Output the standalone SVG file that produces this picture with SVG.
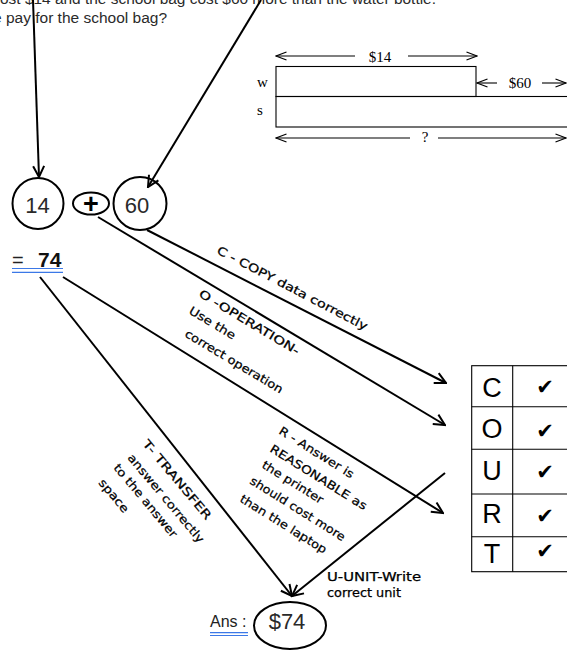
<svg xmlns="http://www.w3.org/2000/svg" width="567" height="650" viewBox="0 0 567 650">
<defs>
<style>
.q{font-family:"Liberation Sans",Arial,sans-serif;font-size:15.5px;fill:#2a2a2a}
.num{font-family:"Liberation Sans",Arial,sans-serif;font-size:22px;fill:#2a2a2a;text-anchor:middle}
.tm{font-family:"Liberation Serif","Times New Roman",serif;font-size:15px;fill:#000}
.lb{font-family:"Comic Sans MS","DejaVu Sans",sans-serif;font-size:11.5px;fill:#000;stroke:#000;stroke-width:0.25}
.ct{font-family:"Liberation Sans",Arial,sans-serif;font-size:27px;fill:#000;text-anchor:middle}
.ck{font-family:"DejaVu Sans",sans-serif;font-size:21px;fill:#000;text-anchor:middle}
.ln{stroke:#000;stroke-width:2;fill:none}
.tl{stroke:#000;stroke-width:1.1;fill:none}
.bl{stroke:#3b78e7;stroke-width:1.2}
</style>
<marker id="ah" viewBox="0 0 14 14" refX="12.5" refY="7" markerWidth="14" markerHeight="14" markerUnits="userSpaceOnUse" orient="auto">
<path d="M1.5,1.5 L12.5,7 L1.5,12.5" fill="none" stroke="#000" stroke-width="2"/>
</marker>
<marker id="ta" viewBox="0 0 12 10" refX="11" refY="5" markerWidth="12" markerHeight="10" markerUnits="userSpaceOnUse" orient="auto-start-reverse">
<path d="M0.5,1 L11,5 L0.5,9" fill="none" stroke="#000" stroke-width="1.1"/>
</marker>
</defs>
<rect width="567" height="650" fill="#fff"/>

<g id="question">
<text class="q" x="0" y="4" textLength="436" lengthAdjust="spacingAndGlyphs">ost $14 and the school bag cost $60 more than the water bottle.</text>
<text class="q" x="-7" y="22.5">e pay for the school bag?</text>
</g>

<g id="bar-model">
<rect x="276" y="66.5" width="200" height="30" class="tl" stroke-width="1.3"/>
<rect x="276" y="96.5" width="292" height="30.5" class="tl" stroke-width="1.3"/>
<text class="tm" x="257" y="87" font-size="13">w</text>
<text class="tm" x="257" y="115" font-size="13">s</text>
<line x1="276" y1="56" x2="355" y2="56" class="tl" marker-start="url(#ta)"/>
<line x1="408" y1="56" x2="477" y2="56" class="tl" marker-end="url(#ta)"/>
<text class="tm" x="380" y="61.5" text-anchor="middle">$14</text>
<line x1="477" y1="83" x2="497" y2="83" class="tl" marker-start="url(#ta)"/>
<line x1="542" y1="83" x2="566" y2="83" class="tl" marker-end="url(#ta)"/>
<text class="tm" x="520" y="88" text-anchor="middle">$60</text>
<line x1="276" y1="138" x2="410" y2="138" class="tl" marker-start="url(#ta)"/>
<line x1="438" y1="138" x2="566" y2="138" class="tl" marker-end="url(#ta)"/>
<text class="tm" x="425" y="142" text-anchor="middle">?</text>
</g>

<g id="node-14">
<circle cx="38" cy="203.5" r="25.5" class="ln"/>
<text class="num" x="37.5" y="213">14</text>
</g>
<g id="node-plus">
<ellipse cx="91" cy="203.5" rx="18" ry="11" class="ln"/>
<text x="91" y="212.5" font-family="Liberation Sans,Arial,sans-serif" font-weight="bold" font-size="27" text-anchor="middle" fill="#000">+</text>
</g>
<g id="node-60">
<circle cx="140" cy="203.5" r="26.5" class="ln"/>
<text class="num" x="137" y="213">60</text>
</g>

<g id="result-74">
<text x="12" y="267" font-family="Liberation Sans,Arial,sans-serif" font-size="20" fill="#222">=</text>
<text x="38" y="267" font-family="Liberation Sans,Arial,sans-serif" font-size="21" font-weight="bold" fill="#111">74</text>
<line x1="12" y1="268.5" x2="63" y2="268.5" class="bl"/>
<line x1="12" y1="272.3" x2="63" y2="272.3" class="bl"/>
</g>

<g id="answer">
<text x="210" y="627" font-family="Liberation Sans,Arial,sans-serif" font-size="16" fill="#222">Ans :</text>
<line x1="210" y1="632.7" x2="248" y2="632.7" class="bl"/>
<line x1="210" y1="635.5" x2="248" y2="635.5" class="bl"/>
<ellipse cx="290" cy="625.5" rx="36" ry="23.5" class="ln"/>
<text class="num" x="287" y="629">$74</text>
</g>

<g id="court-table">
<rect x="471.7" y="365.7" width="100" height="206" class="tl" stroke-width="1.5"/>
<line x1="512.7" y1="365.7" x2="512.7" y2="571.7" class="tl" stroke-width="1.5"/>
<line x1="471.7" y1="406.7" x2="568" y2="406.7" class="tl" stroke-width="1.5"/>
<line x1="471.7" y1="449.3" x2="568" y2="449.3" class="tl" stroke-width="1.5"/>
<line x1="471.7" y1="494" x2="568" y2="494" class="tl" stroke-width="1.5"/>
<line x1="471.7" y1="536.7" x2="568" y2="536.7" class="tl" stroke-width="1.5"/>
<text class="ct" x="492" y="397">C</text>
<text class="ct" x="492" y="437.5">O</text>
<text class="ct" x="492" y="480">U</text>
<text class="ct" x="492" y="523">R</text>
<text class="ct" x="492" y="563">T</text>
<text class="ck" x="545" y="394">✔</text>
<text class="ck" x="545" y="438">✔</text>
<text class="ck" x="545" y="479">✔</text>
<text class="ck" x="545" y="523">✔</text>
<text class="ck" x="545" y="558" font-size="16">✔</text>
</g>

<g id="connectors">
<line x1="33" y1="0" x2="39" y2="177" class="ln" marker-end="url(#ah)"/>
<line x1="261" y1="0" x2="148" y2="187" class="ln" marker-end="url(#ah)"/>
<line x1="147" y1="230" x2="446" y2="383" class="ln" marker-end="url(#ah)"/>
<line x1="98" y1="217" x2="445" y2="425" class="ln" marker-end="url(#ah)"/>
<line x1="63" y1="277" x2="443" y2="513" class="ln" marker-end="url(#ah)"/>
<line x1="40" y1="277" x2="292" y2="596" class="ln" marker-end="url(#ah)"/>
<line x1="445" y1="473" x2="292" y2="596" class="ln" marker-end="url(#ah)"/>
</g>

<g id="labels">
<text class="lb" transform="translate(216,253) rotate(27.5)" textLength="168" lengthAdjust="spacingAndGlyphs">C - COPY data correctly</text>
<text class="lb" transform="translate(198,296) rotate(31)" textLength="115" lengthAdjust="spacingAndGlyphs">O -OPERATION-</text>
<text class="lb" transform="translate(188,313) rotate(31)" textLength="52" lengthAdjust="spacingAndGlyphs">Use the</text>
<text class="lb" transform="translate(184,336) rotate(31)" textLength="112" lengthAdjust="spacingAndGlyphs">correct operation</text>
<text class="lb" transform="translate(278,433) rotate(32)" textLength="86" lengthAdjust="spacingAndGlyphs">R - Answer is</text>
<text class="lb" transform="translate(269,451) rotate(32)" textLength="112" lengthAdjust="spacingAndGlyphs">REASONABLE as</text>
<text class="lb" transform="translate(261,467) rotate(32)" textLength="70" lengthAdjust="spacingAndGlyphs">the printer</text>
<text class="lb" transform="translate(249,483) rotate(32)" textLength="110" lengthAdjust="spacingAndGlyphs">should cost more</text>
<text class="lb" transform="translate(239,501) rotate(32)" textLength="100" lengthAdjust="spacingAndGlyphs">than the laptop</text>
<text class="lb" transform="translate(142,444) rotate(50)" textLength="100" lengthAdjust="spacingAndGlyphs">T- TRANSFER</text>
<text class="lb" transform="translate(127,458) rotate(50)" textLength="112" lengthAdjust="spacingAndGlyphs">answer correctly</text>
<text class="lb" transform="translate(113,468) rotate(50)" textLength="92" lengthAdjust="spacingAndGlyphs">to the answer</text>
<text class="lb" transform="translate(98,483) rotate(50)" textLength="40" lengthAdjust="spacingAndGlyphs">space</text>
<text class="lb" x="327" y="581" textLength="94" lengthAdjust="spacingAndGlyphs">U-UNIT-Write</text>
<text class="lb" x="327" y="597" textLength="74" lengthAdjust="spacingAndGlyphs">correct unit</text>
</g>
</svg>
